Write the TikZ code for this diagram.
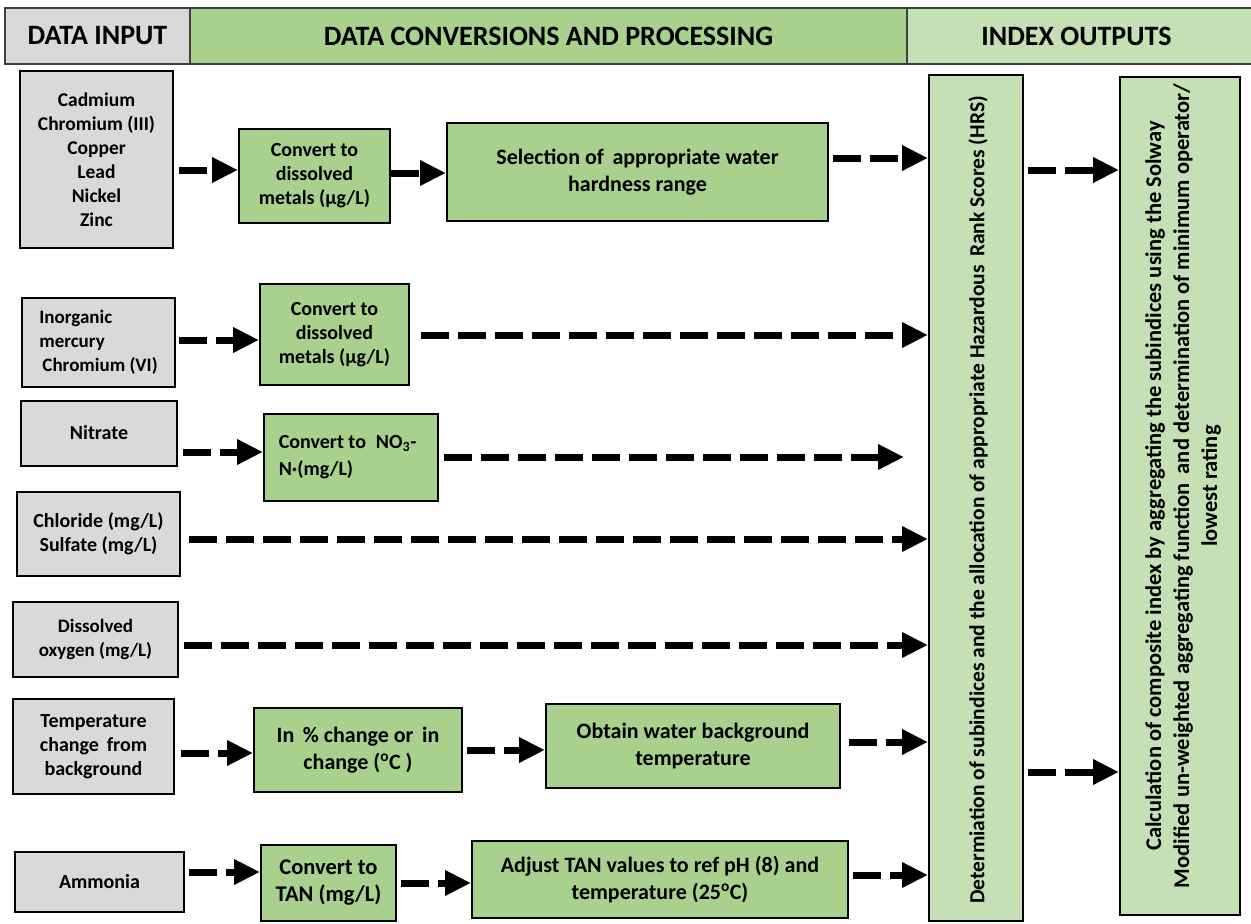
\documentclass[tikz,border=0pt]{standalone}
\usepackage{fontspec}
\setmainfont{Carlito}
\usetikzlibrary{arrows.meta}
\definecolor{gfill}{HTML}{D9D9D9}
\definecolor{mgreen}{HTML}{A9D18E}
\definecolor{lgreen}{HTML}{C5E0B4}
\newcommand\bx[7]{%
  \pgfmathsetmacro\bxcx{(#3+#5)/2}\pgfmathsetmacro\bxcy{(#4+#6)/2}%
  \pgfmathsetmacro\bxw{#5-#3}\pgfmathsetmacro\bxh{#6-#4}%
  \node[#2, minimum width=\bxw pt, minimum height=\bxh pt] (#1) at (\bxcx,\bxcy) {#7};}
\tikzset{
  base/.style={draw=black, line width=2pt, inner sep=0pt, align=center, font=\fontsize{20}{24}\selectfont\bfseries},
  inbox/.style={base, fill=gfill},
  gbox/.style={base, fill=mgreen},
  lbox/.style={base, fill=lgreen},
  hdr/.style={draw=black!75, line width=1.2pt, inner sep=0pt, font=\fontsize{28}{30}\selectfont\bfseries},
  darr/.style={line width=7pt, dash pattern=on 28pt off 9pt, -{Triangle[length=26pt,width=24pt]}},
}
\begin{document}
\begin{tikzpicture}[x=1pt,y=-1pt]
\useasboundingbox (0,0) rectangle (1251,924);
% header
\bx{h1}{hdr, fill=gfill}{5}{8}{190}{64}{DATA INPUT}
\bx{h2}{hdr, fill=mgreen}{190}{8}{907}{64}{DATA CONVERSIONS AND PROCESSING}
\bx{h3}{hdr, fill=lgreen}{907}{8}{1256}{64}{\hspace*{-10pt}INDEX OUTPUTS}
% row 1
\bx{g1}{inbox, font=\fontsize{19.5}{24}\selectfont\bfseries}{20}{71}{173}{248}{Cadmium\\Chromium (III)\\Copper\\Lead\\Nickel\\Zinc}
\bx{c1}{gbox}{239}{129}{390}{223}{Convert to\\dissolved\\metals (µg/L)}
\bx{s1}{gbox, font=\fontsize{22}{27}\selectfont\bfseries}{447}{123}{828}{221}{Selection of\, appropriate water\\hardness range}
% vertical boxes
\bx{v1}{lbox}{929}{75}{1023}{921}{}
\bx{v2}{lbox}{1120}{77}{1240}{915}{}
\node[rotate=90, align=center, font=\fontsize{21.5}{24}\selectfont\bfseries] (v1t) at (978,500) {Determiation of subindices and the allocation of appropriate Hazardous\, Rank Scores (HRS)};
\node[rotate=90, align=center, font=\fontsize{22.5}{28}\selectfont\bfseries] (v2t) at (1183,486) {Calculation of composite index by aggregating the subindices using the Solway\\Modified un-weighted aggregating function\, and determination of minimum operator/\\lowest rating};
% row 2
\bx{g2}{inbox, align=left, font=\fontsize{19}{24}\selectfont\bfseries}{22}{298}{175}{387}{Inorganic\\mercury\\\,Chromium (VI)}
\bx{c2}{gbox}{260}{284}{409}{385}{Convert to\\dissolved\\metals (µg/L)}
% row 3
\bx{g3}{inbox}{21}{401}{177}{466}{\raisebox{2pt}{Nitrate}}
\bx{c3}{gbox, align=left, font=\fontsize{20}{27}\selectfont\bfseries}{264}{414}{438}{501}{Convert to\enspace NO\textsubscript{3}-\\N·(mg/L)\hspace*{70pt}}
% row 4, 5
\bx{g4}{inbox}{17}{492}{180}{576}{Chloride (mg/L)\\Sulfate (mg/L)}
\bx{g5}{inbox, font=\fontsize{19}{24}\selectfont\bfseries}{13}{602}{178}{677}{Dissolved\\oxygen (mg/L)}
% row 6
\bx{g6}{inbox}{13}{699}{174}{794}{Temperature\\change\, from\\background}
\bx{c6}{gbox, font=\fontsize{22}{27}\selectfont\bfseries}{254}{708}{462}{792}{In\, \% change or\, in\\change (\textsuperscript{o}C )}
\bx{o6}{gbox, font=\fontsize{22}{27}\selectfont\bfseries}{546}{704}{840}{788}{Obtain water background\\temperature}
% row 7
\bx{g7}{inbox}{15}{852}{184}{912}{Ammonia}
\bx{c7}{gbox, font=\fontsize{22.5}{27}\selectfont\bfseries}{261}{845}{396}{921}{Convert to\\TAN (mg/L)}
\bx{a7}{gbox, font=\fontsize{22}{27}\selectfont\bfseries}{472}{841}{848}{918}{Adjust TAN values to ref pH (8) and\\temperature (25\textsuperscript{o}C)}
% arrows
\draw[darr] (g1.east |- 0,170) ++(5,0) -- (c1.west |- 0,170);
\draw[darr] (c1.east |- 0,173) -- (s1.west |- 0,173);
\draw[darr] (s1.east |- 0,158) ++(4,0) -- (v1.west |- 0,158);
\draw[darr] (g2.east |- 0,340) ++(3,0) -- (c2.west |- 0,340);
\draw[darr] (c2.east |- 0,335) ++(11,0) -- (v1.west |- 0,335);
\draw[darr] (g3.east |- 0,452) ++(5,0) -- (c3.west |- 0,452);
\draw[darr, shorten >=24pt] (c3.east |- 0,457) ++(5,0) -- (v1.west |- 0,457);
\draw[darr] (g4.east |- 0,539) ++(8,0) -- (v1.west |- 0,539);
\draw[darr] (g5.east |- 0,645) ++(5,0) -- (v1.west |- 0,645);
\draw[darr] (g6.east |- 0,753) ++(6,0) -- (c6.west |- 0,753);
\draw[darr] (c6.east |- 0,750) ++(4,0) -- (o6.west |- 0,750);
\draw[darr] (o6.east |- 0,742) ++(8,0) -- (v1.west |- 0,742);
\draw[darr] (g7.east |- 0,872) ++(4,0) -- (c7.west |- 0,872);
\draw[darr] (c7.east |- 0,883) ++(4,0) -- (a7.west |- 0,883);
\draw[darr] (a7.east |- 0,875) ++(4,0) -- (v1.west |- 0,875);
\draw[darr] (v1.east |- 0,170) ++(4,0) -- (v2.west |- 0,170);
\draw[darr] (v1.east |- 0,772) ++(4,0) -- (v2.west |- 0,772);
\end{tikzpicture}
\end{document}
